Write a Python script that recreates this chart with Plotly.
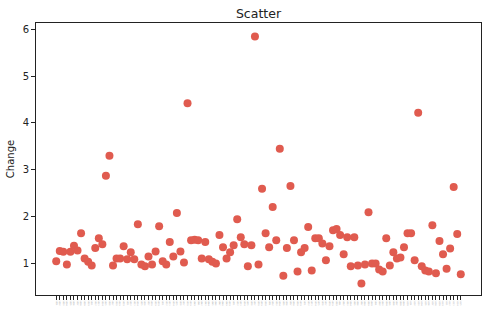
import plotly.graph_objects as go

# Values (115 categories)
change = [
    1.04, 1.26, 1.24, 0.97, 1.24, 1.37, 1.27, 1.64, 1.10, 1.03,
    0.95, 1.32, 1.53, 1.40, 2.87, 3.30, 0.95, 1.10, 1.10, 1.36,
    1.08, 1.23, 1.08, 1.83, 0.97, 0.93, 1.14, 0.97, 1.25, 1.79,
    1.04, 0.97, 1.45, 1.14, 2.07, 1.25, 1.01, 4.42, 1.49,
    1.50, 1.49, 1.10, 1.45, 1.08, 1.03, 0.99, 1.60, 1.34, 1.10,
    1.23, 1.38, 1.94, 1.55, 1.40, 0.93, 1.38, 5.85, 0.97, 2.59,
    1.64, 1.34, 2.20, 1.49, 3.45, 0.73, 1.32, 2.65, 1.49, 0.82,
    1.23, 1.32, 1.77, 0.84, 1.53, 1.53, 1.42, 1.06,
    1.36, 1.70, 1.73, 1.60, 1.19, 1.55, 0.93, 1.55, 0.95, 0.56,
    0.97, 2.09, 0.99, 0.99, 0.86, 0.82, 1.53, 0.95, 1.23, 1.10,
    1.12, 1.34, 1.64, 1.64, 1.06, 4.22, 0.93, 0.84, 0.82, 1.81,
    0.78, 1.47, 1.19, 0.88, 1.31, 2.63, 1.62, 0.76,
]
# tick labels are illegible in the reference; placeholder category names
categories = [f"S{i + 1:03d}" for i in range(len(change))]
y_ticks = [1, 2, 3, 4, 5, 6]

n = len(change)
pad = 0.05 * (n - 1)

fig = go.Figure()
fig.add_trace(go.Scatter(
    x=categories, y=change, mode="markers",
    marker=dict(color="#e05b4f", size=8, line=dict(width=0)),
    showlegend=False,
))

fig.update_layout(
    width=488, height=314,
    margin=dict(l=36, r=7, t=23, b=19),
    paper_bgcolor="white", plot_bgcolor="white",
    font=dict(family="DejaVu Sans", color="black"),
    title=dict(text="Scatter", x=0.5, xanchor="center", y=0.969, yanchor="top",
               xref="paper", font=dict(size=12.5, color="#222")),
)
fig.update_xaxes(
    type="category", range=[-pad, n - 1 + pad],
    showgrid=False, zeroline=False,
    showline=True, linecolor="#222", linewidth=1, mirror=True,
    ticks="outside", ticklen=4, tickwidth=1, tickcolor="#222",
    tickfont=dict(size=2, color="#aaa"), tickangle=90,
)
fig.update_yaxes(
    range=[0.316, 6.14], tickvals=y_ticks,
    showgrid=False, zeroline=False,
    showline=True, linecolor="#222", linewidth=1, mirror=True,
    ticks="outside", ticklen=4, tickwidth=1, tickcolor="#222",
    tickfont=dict(size=10, color="#222"),
    title=dict(text="Change", font=dict(size=10, color="#222"), standoff=6),
)

fig.write_html("out.html")
